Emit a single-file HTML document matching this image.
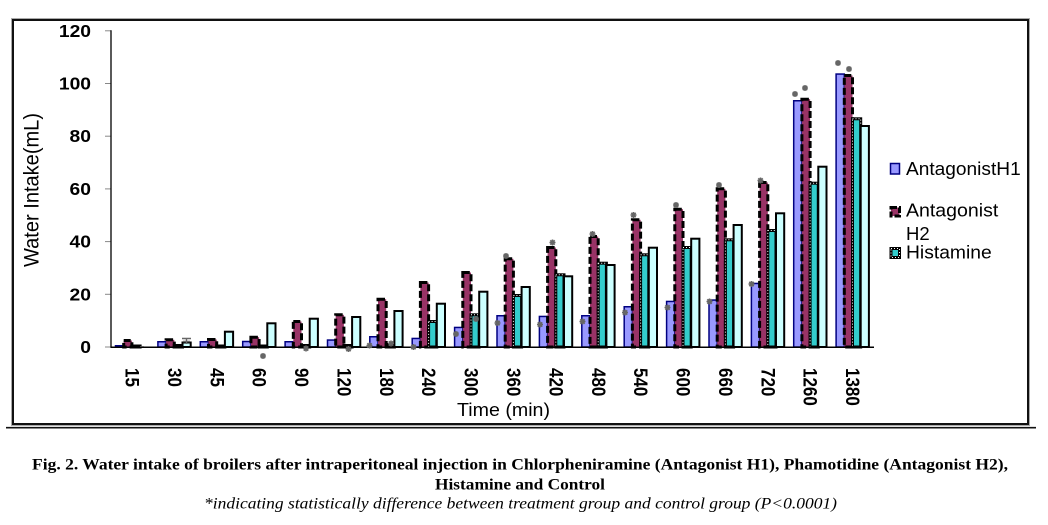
<!DOCTYPE html>
<html><head><meta charset="utf-8"><style>
html,body{margin:0;padding:0;background:#fff;}
svg{display:block;}
text{font-family:"Liberation Sans",Arial,sans-serif;}
.ser{font-family:"Liberation Serif","Times New Roman",serif;}
.h1{fill:#9999ff;stroke:#000080;stroke-width:1.5;}
.h2{fill:#993366;stroke:#000;stroke-width:3;stroke-dasharray:7 3;}
.hs{fill:#33cccc;stroke:#000;stroke-width:3;}
.hd{fill:none;stroke:#fff;stroke-width:1;stroke-dasharray:1 2;}
.ct{fill:#ccffff;stroke:#000;stroke-width:2;}
.st{stroke:#666;stroke-width:1.6;fill:none;}
</style></head><body>
<svg width="1048" height="525" viewBox="0 0 1048 525" xmlns="http://www.w3.org/2000/svg">
<defs>
<g id="s"><path class="st" d="M-3,0H3M0,-3V3M-2.2,-2.2L2.2,2.2M-2.2,2.2L2.2,-2.2"/></g>
</defs>
<!-- frame -->
<rect x="11.5" y="18.5" width="1018" height="407" fill="none" stroke="#aaa" stroke-width="1"/>
<rect x="13" y="20" width="1015" height="404" fill="none" stroke="#111" stroke-width="2"/>
<line x1="6" y1="427.7" x2="1036" y2="427.7" stroke="#111" stroke-width="1.6"/>

<!-- y axis -->
<g stroke="#888" stroke-width="1">
<line x1="105" y1="347" x2="111" y2="347"/>
<line x1="105" y1="294.3" x2="111" y2="294.3"/>
<line x1="105" y1="241.6" x2="111" y2="241.6"/>
<line x1="105" y1="188.9" x2="111" y2="188.9"/>
<line x1="105" y1="136.2" x2="111" y2="136.2"/>
<line x1="105" y1="83.5" x2="111" y2="83.5"/>
<line x1="105" y1="30.8" x2="111" y2="30.8"/>
</g>
<g transform="scale(1.12,1)" font-size="17.2" font-weight="bold" text-anchor="end">
<text x="81.25" y="353">0</text>
<text x="81.25" y="300.3">20</text>
<text x="81.25" y="247.6">40</text>
<text x="81.25" y="194.9">60</text>
<text x="81.25" y="142.2">80</text>
<text x="81.25" y="89.5">100</text>
<text x="81.25" y="36.8">120</text>
</g>
<text transform="translate(31,190) scale(1.1,1) rotate(-90)" text-anchor="middle" dy="0.35em" font-size="19.5" textLength="154" lengthAdjust="spacingAndGlyphs">Water Intake(mL)</text>

<!-- H1 bars -->
<g class="h1">
<rect x="115.5" y="345.75" width="8.2" height="1.25"/>
<rect x="157.9" y="341.75" width="8.2" height="5.25"/>
<rect x="200.3" y="341.75" width="8.2" height="5.25"/>
<rect x="242.7" y="341.5" width="8.2" height="5.5"/>
<rect x="285.1" y="341.75" width="8.2" height="5.25"/>
<rect x="327.5" y="340.05" width="8.2" height="6.95"/>
<rect x="369.8" y="336.75" width="8.2" height="10.25"/>
<rect x="412.2" y="338.45" width="8.2" height="8.55"/>
<rect x="454.6" y="327.45" width="8.2" height="19.55"/>
<rect x="497.0" y="315.75" width="8.2" height="31.25"/>
<rect x="539.4" y="316.45" width="8.2" height="30.55"/>
<rect x="581.8" y="315.75" width="8.2" height="31.25"/>
<rect x="624.2" y="306.75" width="8.2" height="40.25"/>
<rect x="666.6" y="301.45" width="8.2" height="45.55"/>
<rect x="709.0" y="300.05" width="8.2" height="46.95"/>
<rect x="751.4" y="283.45" width="8.2" height="63.55"/>
<rect x="793.7" y="100.75" width="8.2" height="246.25"/>
<rect x="836.1" y="74.05" width="8.2" height="272.95"/>
</g>
<!-- H2 bars -->
<g class="h2">
<rect x="123.7" y="340.5" width="8.2" height="6.5"/>
<rect x="166.1" y="339.8" width="8.2" height="7.2"/>
<rect x="208.5" y="339.5" width="8.2" height="7.5"/>
<rect x="250.9" y="337.2" width="8.2" height="9.8"/>
<rect x="293.3" y="321.5" width="8.2" height="25.5"/>
<rect x="335.7" y="314.8" width="8.2" height="32.2"/>
<rect x="378.0" y="299.2" width="8.2" height="47.8"/>
<rect x="420.4" y="282.5" width="8.2" height="64.5"/>
<rect x="462.8" y="272.5" width="8.2" height="74.5"/>
<rect x="505.2" y="258.8" width="8.2" height="88.2"/>
<rect x="547.6" y="247.5" width="8.2" height="99.5"/>
<rect x="590.0" y="236.5" width="8.2" height="110.5"/>
<rect x="632.4" y="219.8" width="8.2" height="127.2"/>
<rect x="674.8" y="209.2" width="8.2" height="137.8"/>
<rect x="717.2" y="188.8" width="8.2" height="158.2"/>
<rect x="759.6" y="182.5" width="8.2" height="164.5"/>
<rect x="801.9" y="99.2" width="8.2" height="247.8"/>
<rect x="844.3" y="75.5" width="8.2" height="271.5"/>
</g>
<!-- Histamine bars -->
<g class="hs">
<rect x="131.9" y="346" width="8.2" height="1"/>
<rect x="174.3" y="345.5" width="8.2" height="1.5"/>
<rect x="216.7" y="346" width="8.2" height="1"/>
<rect x="259.1" y="346" width="8.2" height="1"/>
<rect x="301.5" y="345.5" width="8.2" height="1.5"/>
<rect x="343.9" y="345.5" width="8.2" height="1.5"/>
<rect x="386.2" y="344.5" width="8.2" height="2.5"/>
<rect x="428.6" y="321.5" width="8.2" height="25.5"/>
<rect x="471.0" y="314.8" width="8.2" height="32.2"/>
<rect x="513.4" y="295.5" width="8.2" height="51.5"/>
<rect x="555.8" y="274.8" width="8.2" height="72.2"/>
<rect x="598.2" y="263.2" width="8.2" height="83.8"/>
<rect x="640.6" y="254.8" width="8.2" height="92.2"/>
<rect x="683.0" y="247.5" width="8.2" height="99.5"/>
<rect x="725.4" y="239.8" width="8.2" height="107.2"/>
<rect x="767.8" y="230.5" width="8.2" height="116.5"/>
<rect x="810.1" y="183.2" width="8.2" height="163.8"/>
<rect x="852.5" y="118.8" width="8.2" height="228.2"/>
</g>
<g class="hd">
<rect x="428.6" y="321.5" width="8.2" height="25.5"/>
<rect x="471.0" y="314.8" width="8.2" height="32.2"/>
<rect x="513.4" y="295.5" width="8.2" height="51.5"/>
<rect x="555.8" y="274.8" width="8.2" height="72.2"/>
<rect x="598.2" y="263.2" width="8.2" height="83.8"/>
<rect x="640.6" y="254.8" width="8.2" height="92.2"/>
<rect x="683.0" y="247.5" width="8.2" height="99.5"/>
<rect x="725.4" y="239.8" width="8.2" height="107.2"/>
<rect x="767.8" y="230.5" width="8.2" height="116.5"/>
<rect x="810.1" y="183.2" width="8.2" height="163.8"/>
<rect x="852.5" y="118.8" width="8.2" height="228.2"/>
</g>
<!-- Control bars -->
<g class="ct">
<rect x="182.5" y="342.5" width="8.2" height="4.5"/>
<rect x="224.9" y="331.7" width="8.2" height="15.3"/>
<rect x="267.3" y="323.3" width="8.2" height="23.7"/>
<rect x="309.7" y="318.7" width="8.2" height="28.3"/>
<rect x="352.1" y="317" width="8.2" height="30"/>
<rect x="394.4" y="311" width="8.2" height="36"/>
<rect x="436.8" y="303.7" width="8.2" height="43.3"/>
<rect x="479.2" y="291.7" width="8.2" height="55.3"/>
<rect x="521.6" y="287" width="8.2" height="60"/>
<rect x="564.0" y="276.3" width="8.2" height="70.7"/>
<rect x="606.4" y="265" width="8.2" height="82"/>
<rect x="648.8" y="247.7" width="8.2" height="99.3"/>
<rect x="691.2" y="238.7" width="8.2" height="108.3"/>
<rect x="733.6" y="225" width="8.2" height="122"/>
<rect x="776.0" y="213.3" width="8.2" height="133.7"/>
<rect x="818.3" y="166.7" width="8.2" height="180.3"/>
<rect x="860.7" y="126" width="8.2" height="221"/>
</g>
<line x1="140" y1="346.6" x2="144" y2="346.6" stroke="#aaa" stroke-width="1"/>

<!-- axes -->
<line x1="111" y1="30.3" x2="111" y2="347.5" stroke="#000" stroke-width="1.3"/>
<line x1="110.5" y1="347.2" x2="874" y2="347.2" stroke="#000" stroke-width="1.5"/>

<!-- error bar on 30 control -->
<path d="M182,338.5H191M186.5,338.5V344M183,341.5H190" stroke="#666" stroke-width="1.4" fill="none"/>

<!-- stars -->
<use href="#s" x="263" y="356"/>
<use href="#s" x="306" y="348.5"/>
<use href="#s" x="348.5" y="349"/>
<use href="#s" x="369.5" y="345.5"/>
<use href="#s" x="391" y="343.5"/>
<use href="#s" x="413.5" y="347"/>
<use href="#s" x="456" y="334"/>
<use href="#s" x="476" y="319"/>
<use href="#s" x="497.5" y="323"/>
<use href="#s" x="506" y="256"/>
<use href="#s" x="540" y="324.5"/>
<use href="#s" x="552.5" y="242.5"/>
<use href="#s" x="582.5" y="321.5"/>
<use href="#s" x="592.5" y="234"/>
<use href="#s" x="625" y="312.5"/>
<use href="#s" x="633.5" y="215"/>
<use href="#s" x="667.5" y="307.5"/>
<use href="#s" x="676" y="205"/>
<use href="#s" x="709.5" y="301.5"/>
<use href="#s" x="719" y="185"/>
<use href="#s" x="751.5" y="284"/>
<use href="#s" x="760.5" y="180.5"/>
<use href="#s" x="795" y="94"/>
<use href="#s" x="805" y="88"/>
<use href="#s" x="838" y="63"/>
<use href="#s" x="849" y="69"/>

<!-- x labels -->
<g font-size="17" font-weight="bold">
<text transform="translate(132.2,368) scale(1.12,1) rotate(90)" dy="0.35em">15</text>
<text transform="translate(174.6,368) scale(1.12,1) rotate(90)" dy="0.35em">30</text>
<text transform="translate(217.0,368) scale(1.12,1) rotate(90)" dy="0.35em">45</text>
<text transform="translate(259.4,368) scale(1.12,1) rotate(90)" dy="0.35em">60</text>
<text transform="translate(301.8,368) scale(1.12,1) rotate(90)" dy="0.35em">90</text>
<text transform="translate(344.1,368) scale(1.12,1) rotate(90)" dy="0.35em">120</text>
<text transform="translate(386.5,368) scale(1.12,1) rotate(90)" dy="0.35em">180</text>
<text transform="translate(428.9,368) scale(1.12,1) rotate(90)" dy="0.35em">240</text>
<text transform="translate(471.3,368) scale(1.12,1) rotate(90)" dy="0.35em">300</text>
<text transform="translate(513.7,368) scale(1.12,1) rotate(90)" dy="0.35em">360</text>
<text transform="translate(556.1,368) scale(1.12,1) rotate(90)" dy="0.35em">420</text>
<text transform="translate(598.5,368) scale(1.12,1) rotate(90)" dy="0.35em">480</text>
<text transform="translate(640.9,368) scale(1.12,1) rotate(90)" dy="0.35em">540</text>
<text transform="translate(683.3,368) scale(1.12,1) rotate(90)" dy="0.35em">600</text>
<text transform="translate(725.7,368) scale(1.12,1) rotate(90)" dy="0.35em">660</text>
<text transform="translate(768.0,368) scale(1.12,1) rotate(90)" dy="0.35em">720</text>
<text transform="translate(810.4,368) scale(1.12,1) rotate(90)" dy="0.35em">1260</text>
<text transform="translate(852.8,368) scale(1.12,1) rotate(90)" dy="0.35em">1380</text>
</g>
<text x="503.5" y="416" font-size="18.5" text-anchor="middle" textLength="93" lengthAdjust="spacingAndGlyphs">Time (min)</text>

<!-- legend -->
<rect x="890.5" y="163.5" width="9" height="10.5" class="h1"/>
<rect x="891" y="207.5" width="8.5" height="8.5" fill="#993366" stroke="#000" stroke-width="3" stroke-dasharray="6 2"/>
<rect x="891" y="248.5" width="8.5" height="9" class="hs"/>
<rect x="891" y="248.5" width="8.5" height="9" class="hd"/>
<g font-size="18.5">
<text x="906" y="175" textLength="114.7" lengthAdjust="spacingAndGlyphs">AntagonistH1</text>
<text x="906" y="216.7" textLength="92.3" lengthAdjust="spacingAndGlyphs">Antagonist</text>
<text x="906" y="240">H2</text>
<text x="906" y="258.5" textLength="85.7" lengthAdjust="spacingAndGlyphs">Histamine</text>
</g>

<!-- caption -->
<g class="ser" font-size="16" fill="#000">
<text class="ser" x="520" y="469.3" text-anchor="middle" font-weight="bold" textLength="976" lengthAdjust="spacingAndGlyphs">Fig. 2. Water intake of broilers after intraperitoneal injection in Chlorpheniramine (Antagonist H1), Phamotidine (Antagonist H2),</text>
<text class="ser" x="520" y="489.3" text-anchor="middle" font-weight="bold" textLength="170" lengthAdjust="spacingAndGlyphs">Histamine and Control</text>
<text class="ser" x="520.5" y="508.3" text-anchor="middle" font-style="italic" textLength="633" lengthAdjust="spacingAndGlyphs">*indicating statistically difference between treatment group and control group (P&lt;0.0001)</text>
</g>
</svg>
</body></html>
